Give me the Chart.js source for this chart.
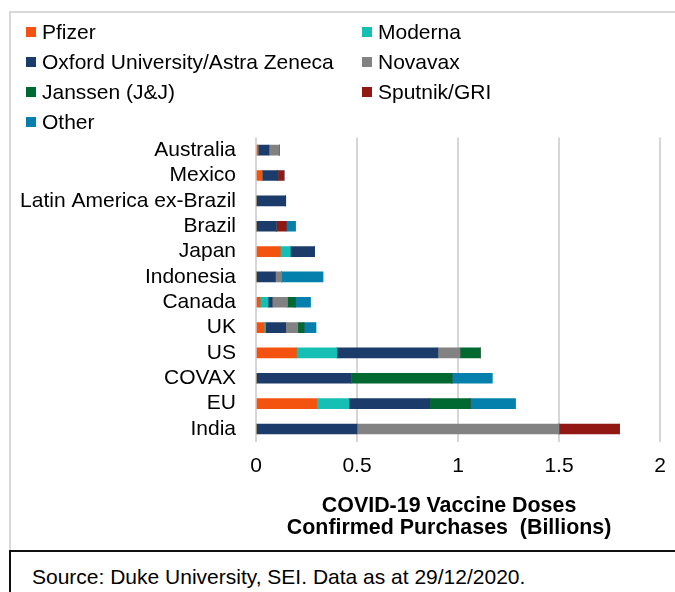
<!DOCTYPE html>
<html>
<head>
<meta charset="utf-8">
<script src="https://cdn.jsdelivr.net/npm/chart.js@4/dist/chart.umd.min.js"></script>
<style>
  html, body { margin: 0; padding: 0; background: #fff; }
  body { width: 675px; height: 592px; position: relative; overflow: hidden;
         font-family: "Liberation Sans", Arial, sans-serif; color: #000; }
  #frame { position: absolute; left: 9px; top: 11px; width: 700px; height: 540px;
           border: 2px solid #d9d9d9; border-right: none; border-bottom: none; box-sizing: border-box; }
  #source { position: absolute; left: 9px; top: 550px; width: 700px; height: 60px;
            border-top: 2px solid #111; border-left: 2px solid #111; box-sizing: border-box;
            font-size: 21px; line-height: 24px; padding: 13px 0 0 21px; }
  #chart { position: absolute; left: 0; top: 0; }
  .lg { position: absolute; font-size: 21px; line-height: 24px; white-space: nowrap; }
  .lg i { position: absolute; width: 10px; height: 10px; left: -16px; top: 7px; }
</style>
</head>
<body>
<div id="frame"></div>
<div id="source">Source: Duke University, SEI. Data as at 29/12/2020.</div>
<canvas id="chart" width="675" height="592"></canvas>
<div id="legend"></div>
<script>
const categories = ["Australia", "Mexico", "Latin America ex-Brazil", "Brazil", "Japan", "Indonesia",
  "Canada", "UK", "US", "COVAX", "EU", "India"];

const seriesNames = ["Pfizer", "Moderna", "Oxford University/Astra Zeneca", "Novavax",
  "Janssen (J&J)", "Sputnik/GRI", "Other"];
const seriesColors = ["#f3530f", "#16bfb3", "#1b3b6b", "#828282", "#006931", "#921814", "#0580ac"];

// billions of doses
const pfizer  = [0.01, 0.03, 0, 0, 0.12, 0, 0.02, 0.04, 0.2, 0, 0.3, 0];
const moderna = [0, 0, 0, 0, 0.05, 0, 0.04, 0.007, 0.2, 0, 0.16, 0];
const oxford  = [0.054, 0.078, 0.147, 0.1, 0.12, 0.096, 0.02, 0.1, 0.5, 0.47, 0.4, 0.5];
const novavax = [0.051, 0, 0, 0, 0, 0.031, 0.076, 0.06, 0.11, 0, 0, 1.0];
const janssen = [0, 0, 0, 0, 0, 0, 0.038, 0.03, 0.1, 0.5, 0.2, 0];
const sputnik = [0, 0.031, 0, 0.05, 0, 0, 0, 0, 0, 0, 0, 0.3];
const other   = [0, 0, 0, 0.046, 0, 0.205, 0.076, 0.06, 0, 0.2, 0.225, 0];

const xTicks = [0, 0.5, 1, 1.5, 2];
const xTickLabels = ["0", "0.5", "1", "1.5", "2"];
const axisTitle = ["COVID-19 Vaccine Doses", "Confirmed Purchases  (Billions)"];

const seriesData = [pfizer, moderna, oxford, novavax, janssen, sputnik, other];

// legend, two columns
const legendPos = [[42, 20], [378, 20], [42, 50], [378, 50], [42, 80], [378, 80], [42, 110]];
const legendEl = document.getElementById("legend");
seriesNames.forEach((name, i) => {
  const d = document.createElement("div");
  d.className = "lg";
  d.style.left = legendPos[i][0] + "px";
  d.style.top = legendPos[i][1] + "px";
  d.textContent = name;
  const sw = document.createElement("i");
  sw.style.background = seriesColors[i];
  d.prepend(sw);
  legendEl.appendChild(d);
});

const font = "'Liberation Sans', Arial, sans-serif";

new Chart(document.getElementById("chart"), {
  type: "bar",
  data: {
    labels: categories,
    datasets: seriesNames.map((name, i) => ({
      label: name,
      data: seriesData[i],
      backgroundColor: seriesColors[i],
      borderWidth: 0,
      barThickness: 10,
    })),
  },
  options: {
    indexAxis: "y",
    responsive: false,
    animation: false,
    layout: { padding: { top: 137.5, right: 15, bottom: 52.7, left: 0 } },
    plugins: { legend: { display: false }, tooltip: { enabled: false } },
    scales: {
      x: {
        stacked: true,
        min: 0,
        max: 2,
        afterBuildTicks: (scale) => { scale.ticks = xTicks.map((v) => ({ value: v })); },
        grid: { color: "#d6d6d6", lineWidth: 2, drawTicks: false },
        border: { display: false },
        ticks: {
          color: "#000",
          padding: 9,
          font: { family: font, size: 21, lineHeight: 1.476 },
          callback: (v, i) => xTickLabels[i],
        },
        title: {
          display: true,
          // trailing spaces nudge the centred title a little left, as in the original
          text: axisTitle.map((t) => t + "   "),
          color: "#000",
          padding: { top: 5, bottom: 0 },
          font: { family: font, size: 21.4, weight: "bold", lineHeight: 1.02 },
        },
      },
      y: {
        stacked: true,
        afterFit: (scale) => { scale.width = 256; },
        grid: { display: false, drawTicks: false },
        border: { display: false },
        ticks: { color: "#000", padding: 20, autoSkip: false, font: { family: font, size: 21 } },
      },
    },
  },
});
</script>
</body>
</html>
